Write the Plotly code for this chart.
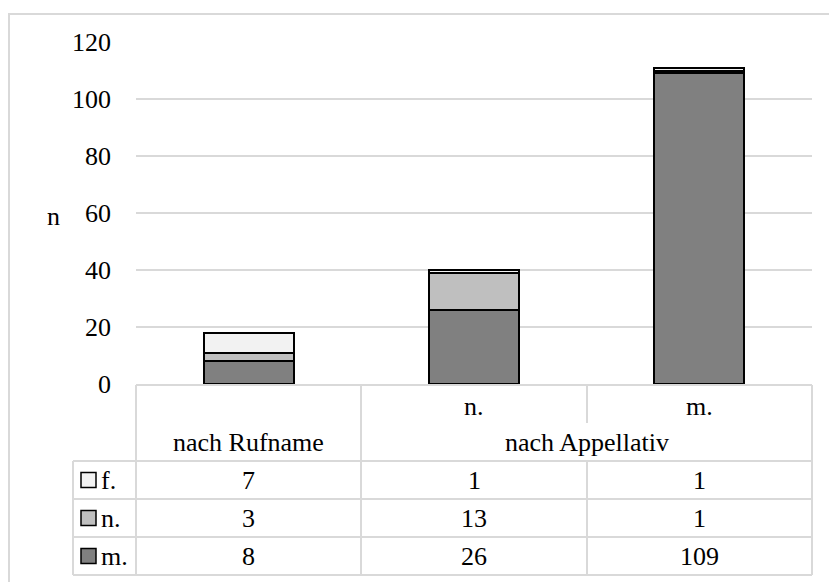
import plotly.graph_objects as go

# Categories (two-level) and series values
groups = ["nach Rufname", "nach Appellativ", "nach Appellativ"]
subgroups = ["", "n.", "m."]
series_names = ["f.", "n.", "m."]
f_vals = [7, 1, 1]
n_vals = [3, 13, 1]
m_vals = [8, 26, 109]
series_colors = ["#f2f2f2", "#bfbfbf", "#808080"]
y_ticks = [0, 20, 40, 60, 80, 100, 120]

FONT = "Liberation Serif, Times New Roman, serif"
FS = 26
GRID = "#d9d9d9"

W, H = 829, 582
L, R, T, B = 136, 17, 42, 198
PW, PH = W - L - R, H - T - B


def px(x):
    return (x - L) / PW


def py(y):
    return (H - B - y) / PH


values = {"f.": f_vals, "n.": n_vals, "m.": m_vals}
colors = dict(zip(series_names, series_colors))
xpos = list(range(len(groups)))

fig = go.Figure()
for name in ["m.", "n.", "f."]:
    fig.add_trace(go.Bar(
        x=xpos, y=values[name], name=name, width=0.4,
        marker=dict(color=colors[name], line=dict(color="black", width=2)),
        showlegend=False,
    ))

shapes = []
annotations = []


def hline(y, x0, x1):
    shapes.append(dict(type="line", xref="paper", yref="paper",
                       x0=px(x0), x1=px(x1), y0=py(y), y1=py(y),
                       line=dict(color=GRID, width=2), layer="above"))


def vline(x, y0, y1):
    shapes.append(dict(type="line", xref="paper", yref="paper",
                       x0=px(x), x1=px(x), y0=py(y0), y1=py(y1),
                       line=dict(color=GRID, width=2), layer="above"))


def text(s, x, y, anchor="center"):
    annotations.append(dict(text=s, xref="paper", yref="paper",
                            x=px(x), y=py(y), xanchor=anchor, yanchor="middle",
                            showarrow=False, font=dict(family=FONT, size=FS, color="black")))


# outer chart frame
shapes.append(dict(type="rect", xref="paper", yref="paper",
                   x0=px(9), x1=px(845), y0=py(14), y1=py(600),
                   line=dict(color=GRID, width=2), fillcolor="rgba(0,0,0,0)", layer="below"))

# data table grid
top, r1, r2, r3, r4, bot = 385, 423, 461, 499, 537, 575
c0, c1, c2, c3, c4 = 73, 136, 361, 587, 812
hline(top, c1, c4)
for y in (r2, r3, r4, bot):
    hline(y, c0, c4)
vline(c0, r2, bot)
vline(c1, top, bot)
vline(c2, top, bot)
vline(c3, top, r1)
vline(c3, r2, bot)
vline(c4, top, bot)

# category labels
col_centers = [(c1 + c2) / 2, (c2 + c3) / 2, (c3 + c4) / 2]
for cx, sub in zip(col_centers, subgroups):
    if sub:
        text(sub, cx, 407)
text(groups[0], col_centers[0], 442)
text(groups[1], (c2 + c4) / 2, 442)

# legend keys and values
row_centers = [480, 518, 556]
for yc, name in zip(row_centers, series_names):
    shapes.append(dict(type="rect", xref="paper", yref="paper",
                       x0=px(81), x1=px(96), y0=py(yc - 7.5), y1=py(yc + 7.5),
                       fillcolor=colors[name], line=dict(color="black", width=1.5),
                       layer="above"))
    text(name, 99, yc, anchor="left")
    for cx, v in zip(col_centers, values[name]):
        text(str(v), cx, yc)

# y axis title
text("n", 53, 216)

fig.update_layout(
    width=W, height=H,
    margin=dict(l=L, r=R, t=T, b=B, autoexpand=False),
    paper_bgcolor="white", plot_bgcolor="white",
    barmode="stack", bargap=0,
    shapes=shapes, annotations=annotations,
    xaxis=dict(range=[-0.5, 2.5], showticklabels=False, showgrid=False,
               zeroline=False, showline=False, fixedrange=True),
    yaxis=dict(range=[0, 120], tickvals=y_ticks, showgrid=True, gridcolor=GRID,
               gridwidth=1.5, zeroline=False, showline=False, ticks="",
               ticklabelstandoff=24,
               tickfont=dict(family=FONT, size=FS, color="black")),
)

fig.write_html("out.html")
